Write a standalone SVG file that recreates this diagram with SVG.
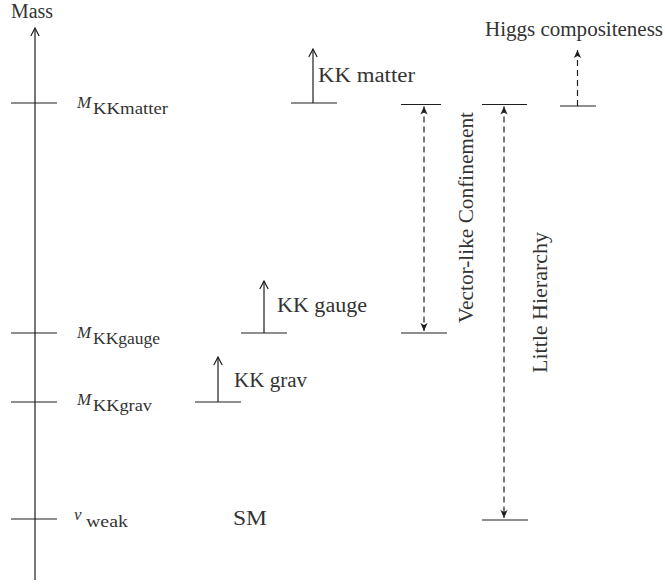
<svg xmlns="http://www.w3.org/2000/svg" width="665" height="586" viewBox="0 0 665 586">
  <style>
    .ln { stroke: #1e1e1e; stroke-width: 1.2; fill: none; }
    .dash { stroke: #1e1e1e; stroke-width: 1.2; fill: none; stroke-dasharray: 6 4; }
    .t { font-family: "Liberation Serif", "Times New Roman", serif; fill: #333; font-size: 20px; }
    .mi { font-family: "Liberation Serif", "Times New Roman", serif; fill: #333; font-size: 17px; font-style: italic; }
    .sub { font-family: "Liberation Serif", "Times New Roman", serif; fill: #333; font-size: 16px; }
  </style>
  <defs>
    <marker id="open" markerUnits="userSpaceOnUse" markerWidth="14" markerHeight="14" viewBox="-10 -7 12 14" refX="0" refY="0" orient="auto">
      <path d="M-8,-4.2 Q-3,-1.5 0,0 Q-3,1.5 -8,4.2" stroke="#1e1e1e" stroke-width="1.2" fill="none"/>
    </marker>
    <marker id="fill" markerUnits="userSpaceOnUse" markerWidth="14" markerHeight="14" viewBox="-10 -7 12 14" refX="0" refY="0" orient="auto-start-reverse">
      <path d="M-8,-3.6 L0,0 L-8,3.6 L-6,0 Z" fill="#1e1e1e"/>
    </marker>
  </defs>

  <g id="axis">
    <text class="t" x="11" y="18" font-size="19" textLength="42" lengthAdjust="spacingAndGlyphs">Mass</text>
  </g>

  <g id="tick-matter">
    <line class="ln" x1="11" y1="103" x2="57" y2="103"/>
    <text class="mi" x="77" y="108">M</text>
    <text class="sub" x="93" y="114" textLength="75" lengthAdjust="spacingAndGlyphs">KKmatter</text>
  </g>
  <g id="tick-gauge">
    <line class="ln" x1="11" y1="333" x2="57" y2="333"/>
    <text class="mi" x="77" y="338">M</text>
    <text class="sub" x="93" y="344" textLength="67" lengthAdjust="spacingAndGlyphs">KKgauge</text>
  </g>
  <g id="tick-grav">
    <line class="ln" x1="11" y1="402" x2="57" y2="402"/>
    <text class="mi" x="77" y="405">M</text>
    <text class="sub" x="93" y="411" textLength="59" lengthAdjust="spacingAndGlyphs">KKgrav</text>
  </g>
  <g id="tick-weak">
    <line class="ln" x1="11" y1="519" x2="57" y2="519"/>
    <text class="mi" x="74" y="520" font-size="20">v</text>
    <text class="sub" x="86" y="527" textLength="42" lengthAdjust="spacingAndGlyphs">weak</text>
  </g>

  <g id="kk-matter">
    <line class="ln" x1="291" y1="103" x2="337" y2="103"/>
    <text class="t" x="318" y="82" textLength="97" lengthAdjust="spacingAndGlyphs">KK matter</text>
  </g>
  <g id="kk-gauge">
    <line class="ln" x1="241" y1="333" x2="287" y2="333"/>
    <text class="t" x="277" y="312" textLength="90" lengthAdjust="spacingAndGlyphs">KK gauge</text>
  </g>
  <g id="kk-grav">
    <line class="ln" x1="195" y1="402" x2="241" y2="402"/>
    <text class="t" x="234" y="387" textLength="73" lengthAdjust="spacingAndGlyphs">KK grav</text>
  </g>
  <g id="sm">
    <text class="t" x="233" y="525" textLength="34" lengthAdjust="spacingAndGlyphs">SM</text>
  </g>

  <g id="vector-like">
    <line class="ln" x1="401" y1="104.5" x2="441" y2="104.5"/>
    <line class="ln" x1="401" y1="333" x2="447" y2="333"/>
    <text class="t" transform="translate(473,217.5) rotate(-90)" text-anchor="middle" textLength="211" lengthAdjust="spacingAndGlyphs">Vector-like Confinement</text>
  </g>
  <g id="little-hierarchy">
    <line class="ln" x1="482" y1="104.5" x2="527" y2="104.5"/>
    <line class="ln" x1="482" y1="520" x2="528" y2="520"/>
    <text class="t" transform="translate(547,302.5) rotate(-90)" text-anchor="middle" textLength="141" lengthAdjust="spacingAndGlyphs">Little Hierarchy</text>
  </g>
  <g id="higgs">
    <line class="ln" x1="560" y1="106" x2="596" y2="106"/>
    <text class="t" x="485" y="36" textLength="178" lengthAdjust="spacingAndGlyphs">Higgs compositeness</text>
  </g>

  <g id="connectors">
    <line class="ln" x1="35" y1="580" x2="35" y2="28" marker-end="url(#open)"/>
    <line class="ln" x1="313" y1="103" x2="313" y2="49" marker-end="url(#open)"/>
    <line class="ln" x1="264" y1="333" x2="264" y2="281" marker-end="url(#open)"/>
    <line class="ln" x1="218" y1="402" x2="218" y2="357" marker-end="url(#open)"/>
    <line class="dash" x1="424" y1="106.5" x2="424" y2="331" marker-start="url(#fill)" marker-end="url(#fill)"/>
    <line class="dash" x1="504" y1="106.5" x2="504" y2="518" marker-start="url(#fill)" marker-end="url(#fill)"/>
    <line class="dash" x1="577.5" y1="106" x2="577.5" y2="50" marker-end="url(#fill)"/>
  </g>
</svg>
